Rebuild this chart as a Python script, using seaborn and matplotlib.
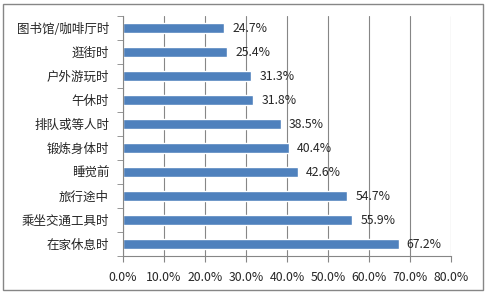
import matplotlib
matplotlib.use("Agg")
import matplotlib.pyplot as plt
import seaborn as sns
import pandas as pd
import numpy as np
from matplotlib.patches import Rectangle

categories = ["图书馆/咖啡厅时", "逛街时", "户外游玩时", "午休时", "排队或等人时",
              "锻炼身体时", "睡觉前", "旅行途中", "乘坐交通工具时", "在家休息时"]
values = [24.7, 25.4, 31.3, 31.8, 38.5, 40.4, 42.6, 54.7, 55.9, 67.2]
xticks = [0, 10, 20, 30, 40, 50, 60, 70, 80]

sns.set_style("white")
plt.rcParams['font.family'] = ['Noto Sans CJK SC', 'DejaVu Sans']

df = pd.DataFrame({"cat": categories, "val": values})

fig = plt.figure(figsize=(4.87, 2.93), dpi=100)
ax = fig.add_axes([123/487, 1 - 256/293, (451-123)/487, (256-16)/293])

sns.barplot(data=df, y="cat", x="val", color="#4F81BD", saturation=1, width=0.38, ax=ax, orient="h")

ax.set_xlim(0, 80)
ax.set_ylim(len(categories) - 0.5, -0.5)
ax.set_xticks(xticks)
ax.set_xticklabels([f"{t:.1f}%" for t in xticks], fontsize=8.8)
ax.tick_params(axis='x', length=4, pad=7, color="#868686", direction='out', bottom=True)
ax.tick_params(axis='y', length=0, pad=10, labelsize=9)
ax.set_yticks(np.arange(-0.5, len(categories)), minor=True)
ax.tick_params(axis='y', which='minor', length=4, color="#868686", left=True)
ax.set_xlabel("")
ax.set_ylabel("")
ax.grid(axis='x', color="#868686", linewidth=0.8)
ax.set_axisbelow(True)
for s in ["top", "right"]:
    ax.spines[s].set_visible(False)
for s in ["left", "bottom"]:
    ax.spines[s].set_color("#868686")
    ax.spines[s].set_linewidth(0.8)

for i, v in enumerate(values):
    ax.text(v + 2.0, i, f"{v:.1f}%", va="center", ha="left", fontsize=8.8)

fig.patches.append(Rectangle((3/487, 3/293), 480/487, 286/293, transform=fig.transFigure,
                             fill=False, edgecolor="#868686", linewidth=1))

fig.savefig("out.png", dpi=100)
